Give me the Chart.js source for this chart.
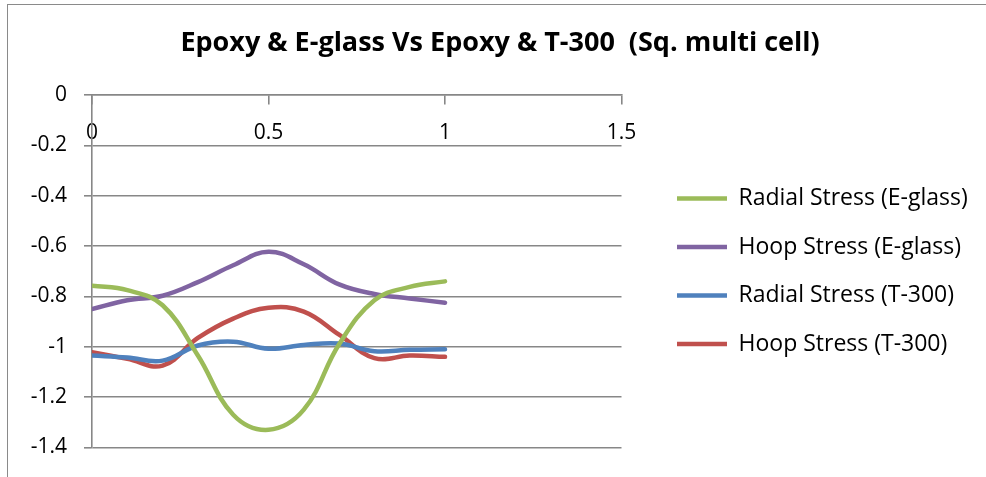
<!DOCTYPE html>
<html>
<head>
<meta charset="utf-8">
<title>Epoxy &amp; E-glass Vs Epoxy &amp; T-300 (Sq. multi cell)</title>
<script src="https://cdn.jsdelivr.net/npm/chart.js@4.4.1/dist/chart.umd.min.js"></script>
<style>
  html, body { margin: 0; padding: 0; background: #ffffff; }
  #wrap { position: relative; width: 986px; height: 477px; overflow: hidden; }
  #frame {
    position: absolute; left: 7px; top: 4px; right: -10px; bottom: -10px;
    border-top: 1.5px solid #8a8a8a; border-left: 1.5px solid #8a8a8a;
  }
  canvas { position: absolute; left: 0; top: 0; }
</style>
</head>
<body>
<div id="wrap">
  <div id="frame"></div>
  <canvas id="chart" width="986" height="477"></canvas>
</div>
<script>
// Normalised position across the section
const positions = [0, 0.1, 0.2, 0.3, 0.4, 0.5, 0.6, 0.7, 0.8, 0.9, 1.0];

// Stress values at each position
const radialEglass = [-0.757, -0.775, -0.835, -1.035, -1.27, -1.33, -1.25, -0.99, -0.815, -0.762, -0.74];
const hoopEglass   = [-0.85, -0.815, -0.797, -0.743, -0.676, -0.622, -0.672, -0.752, -0.79, -0.808, -0.825];
const radialT300   = [-1.035, -1.043, -1.055, -0.995, -0.98, -1.008, -0.993, -0.987, -1.018, -1.012, -1.01];
const hoopT300     = [-1.022, -1.048, -1.075, -0.965, -0.888, -0.845, -0.86, -0.952, -1.045, -1.035, -1.04];

const seriesNames = ['Radial Stress (E-glass)', 'Hoop Stress (E-glass)', 'Radial Stress (T-300)', 'Hoop Stress (T-300)'];
const seriesColors = ['#9BBB59', '#8064A2', '#4F81BD', '#C0504D'];

// Axis tick values
const xTicks = [0, 0.5, 1, 1.5];
const yTicks = [0, -0.2, -0.4, -0.6, -0.8, -1, -1.2, -1.4];

const FONT = "'Open Sans', 'DejaVu Sans', sans-serif";
const GRID = '#878787';

function toPoints(values) {
  return positions.map((x, i) => ({ x: x, y: values[i] }));
}

const seriesValues = [radialEglass, hoopEglass, radialT300, hoopT300];
const datasets = seriesValues.map((vals, i) => ({
  label: seriesNames[i],
  data: toPoints(vals),
  borderColor: seriesColors[i],
  backgroundColor: seriesColors[i],
  borderWidth: 4.5,
  borderCapStyle: 'round',
  borderJoinStyle: 'round',
  pointRadius: 0,
  pointHoverRadius: 0,
  tension: 0.4,
  fill: false,
  yAxisID: 'y',
  xAxisID: 'x'
}));

new Chart(document.getElementById('chart'), {
  type: 'line',
  data: { datasets: datasets },
  options: {
    responsive: false,
    animation: false,
    events: [],
    layout: { padding: { left: 28, right: 14, top: 0, bottom: 27.5 } },
    plugins: {
      title: {
        display: true,
        text: 'Epoxy & E-glass Vs Epoxy & T-300  (Sq. multi cell)',
        color: '#000000',
        font: { family: FONT, size: 27, weight: 'bold', lineHeight: 1.2 },
        padding: { top: 26.8, bottom: 36 }
      },
      legend: {
        display: true,
        position: 'right',
        fullSize: false,
        maxWidth: 320.5,
        labels: {
          color: '#000000',
          font: { family: FONT, size: 23 },
          usePointStyle: true,
          pointStyle: 'line',
          pointStyleWidth: 50,
          padding: 25.5
        }
      },
      tooltip: { enabled: false }
    },
    scales: {
      x: {
        type: 'linear',
        position: { y: 0 },
        min: 0,
        max: 1.5,
        afterBuildTicks: (scale) => { scale.ticks = xTicks.map(v => ({ value: v })); },
        ticks: {
          color: '#000000',
          font: { family: FONT, size: 21 },
          padding: 16,
          callback: (v) => String(v)
        },
        grid: { display: true, drawOnChartArea: false, drawTicks: true, tickLength: 9, color: GRID, lineWidth: 1.6 },
        border: { display: true, color: GRID, width: 1.6 }
      },
      y: {
        type: 'linear',
        position: 'left',
        min: -1.4,
        max: 0,
        afterBuildTicks: (scale) => { scale.ticks = yTicks.map(v => ({ value: v })); },
        afterFit: (scale) => { scale.width = 64; },
        ticks: {
          color: '#000000',
          font: { family: FONT, size: 21 },
          padding: 17,
          callback: (v) => String(v)
        },
        grid: { display: true, drawOnChartArea: true, drawTicks: true, tickLength: 8, color: GRID, lineWidth: 1.6 },
        border: { display: true, color: GRID, width: 1.6 }
      },
      gap: {
        type: 'linear',
        axis: 'y',
        position: 'right',
        display: true,
        afterFit: (scale) => { scale.width = 30; },
        ticks: { display: false },
        grid: { display: false },
        border: { display: false }
      }
    }
  }
});
</script>
</body>
</html>
